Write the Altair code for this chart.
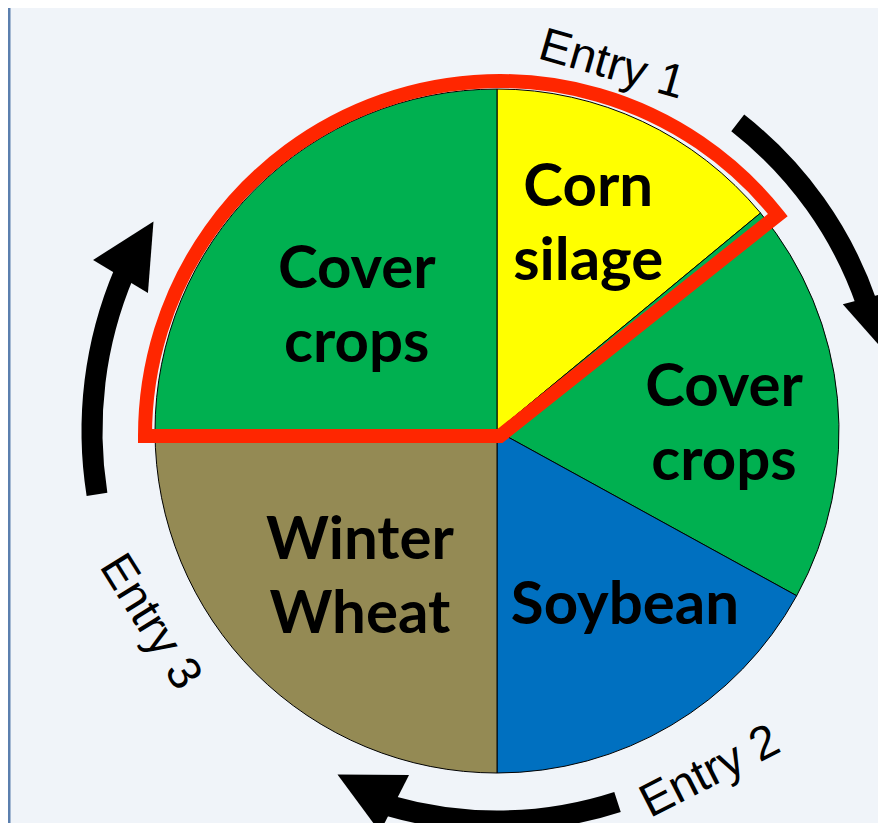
import math
import altair as alt
import pandas as pd

# ---- data ----
crops = ["Corn silage", "Cover crops", "Soybean", "Winter Wheat", "Cover crops"]
shares = [14, 19, 17, 25, 25]
crop_types = ["Corn silage", "Cover crops", "Soybean", "Winter Wheat"]
crop_colors = ["#FFFF00", "#00B050", "#0070C0", "#948A54"]
entries = ["Entry 1", "Entry 2", "Entry 3"]

# ---- layout ----
W, H = 870, 815
CX, CY = 489, 423   # pie centre (chart pixels)
R = 342
BG = "#F0F4F9"
LH = 74

df = pd.DataFrame({"idx": list(range(len(crops))), "crop": crops, "share": shares})
one = pd.DataFrame({"k": [0]})

pie = alt.Chart(df).mark_arc(radius=R, stroke="black", strokeWidth=1).encode(
    theta=alt.Theta("share:Q", stack=True),
    order=alt.Order("idx:Q"),
    color=alt.Color("crop:N", scale=alt.Scale(domain=crop_types, range=crop_colors), legend=None),
    x=alt.value(CX),
    y=alt.value(CY),
)

# highlighted sector outline (Entry 1 portion)
red = alt.Chart(one).mark_arc(
    theta=1.5 * math.pi,
    theta2=2 * math.pi + math.radians(51.5),
    radius=355,
    filled=False,
    stroke="#FF2600",
    strokeWidth=14,
    strokeJoin="miter",
    strokeMiterLimit=10,
).encode(x=alt.value(CX + 3), y=alt.value(CY + 5))

# labels inside the pie
label_r = [226, 227, 216, 201, 187]
label_dx = [-5, 1, 18, 5, -8]
label_dy = [-2, 15, -11, 5, 8]
labels = []
for i in range(len(crops)):
    nlines = len(crops[i].split(" "))
    lay = (
        alt.Chart(df)
        .transform_joinaggregate(total="sum(share)")
        .transform_window(cum="sum(share)", sort=[alt.SortField("idx", order="ascending")], frame=[None, 0])
        .transform_calculate(mid="(datum.cum - datum.share / 2) / datum.total * 2 * PI")
        .transform_filter(f"datum.idx == {i}")
        .transform_calculate(
            px=f"{CX} + {label_r[i]} * sin(datum.mid)",
            py=f"{CY} - {label_r[i]} * cos(datum.mid)",
        )
        .mark_text(
            font="Lato", fontWeight="bold", fontSize=60, lineBreak=" ", lineHeight=LH,
            dx=label_dx[i], dy=label_dy[i] - (nlines - 1) * LH / 2,
            color="black", align="center", baseline="middle",
        )
        .encode(
            x=alt.X("px:Q", scale=None, axis=None),
            y=alt.Y("py:Q", scale=None, axis=None),
            text="crop:N",
        )
    )
    labels.append(lay)

# curved arrows
def band(t0, t1, rmid, width=21):
    return alt.Chart(one).mark_arc(
        theta=math.radians(t0), theta2=math.radians(t1),
        radius=rmid + width / 2, radius2=rmid - width / 2, color="black",
    ).encode(x=alt.value(CX), y=alt.value(CY))

TRI = "M -1 1 L 1 1 L 0 -1 Z"

def head(px, py, ang):
    return alt.Chart(one).mark_point(
        shape=TRI, size=4096, filled=True, color="black", opacity=1, angle=ang, strokeWidth=0,
    ).encode(x=alt.value(px), y=alt.value(py))

arrows = [
    band(38, 71, 391), head(874, 319, 165),
    band(162, 196, 390), head(358, 781, 297),
    band(261, 293, 405), head(129, 241, 31),
]

# Entry texts
entry_xy = [(604, 57, 16), (702, 764, 333), (142, 614, 58)]
entry_layers = []
for t, (ex, ey, ea) in zip(entries, entry_xy):
    entry_layers.append(
        alt.Chart(one).mark_text(
            text=t, font="Liberation Sans", fontSize=47, angle=ea, color="black",
            align="center", baseline="middle",
        ).encode(x=alt.value(ex), y=alt.value(ey))
    )

border = alt.Chart(one).mark_rule(color="#5B7FAE", strokeWidth=3).encode(
    x=alt.value(1), y=alt.value(0), y2=alt.value(H)
)

chart = alt.layer(
    border, pie, red, *labels, *arrows, *entry_layers
).properties(
    width=W, height=H, padding=0, background=BG,
    autosize=alt.AutoSizeParams(type="none"),
).configure_view(stroke=None)

chart.save("out.html", embed_options={"renderer": "svg", "actions": False})
